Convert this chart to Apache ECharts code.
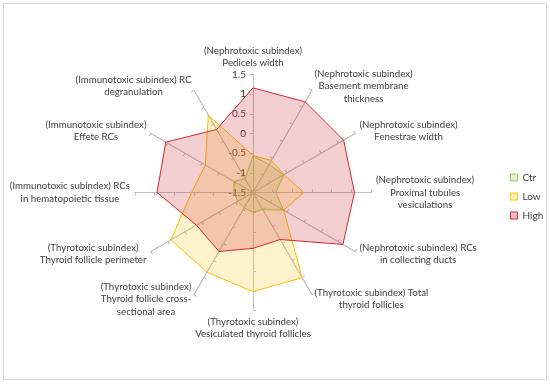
<!DOCTYPE html>
<html><head><meta charset="utf-8">
<script src="https://cdn.jsdelivr.net/npm/echarts@6/dist/echarts.min.js"></script>
<style>html,body{margin:0;padding:0;background:#fff}#c{width:550px;height:384px}</style>
</head><body><div id="c"></div>
<script>
// Categories in clockwise order starting from the top axis
const categories = [
  "(Nephrotoxic subindex)\nPedicels width",
  "(Nephrotoxic subindex)\nBasement membrane\nthickness",
  "(Nephrotoxic subindex)\nFenestrae width",
  "(Nephrotoxic subindex)\nProximal tubules\nvesiculations",
  "(Nephrotoxic subindex) RCs\nin collecting ducts",
  "(Thyrotoxic subindex) Total\nthyroid follicles",
  "(Thyrotoxic subindex)\nVesiculated thyroid follicles",
  "(Thyrotoxic subindex)\nThyroid follicle cross-\nsectional area",
  "(Thyrotoxic subindex)\nThyroid follicle perimeter",
  "(Immunotoxic subindex) RCs\nin hematopoietic tissue",
  "(Immunotoxic subindex)\nEffete RCs",
  "(Immunotoxic subindex) RC\ndegranulation"
];
const seriesNames = ["Ctr", "Low", "High"];
const ctrValues  = [-0.57, -0.68, -0.60, -0.92, -0.60, -1.00, -1.00, -1.05, -1.05, -1.02, -0.94, -1.10];
const lowValues  = [-0.56, -0.56, -0.59, -0.21, -0.60,  1.00,  1.02,  0.84,  0.91,  0.06, -0.10,  0.77];
const highValues = [ 1.16,  1.16,  1.16,  1.08,  1.14, -0.12, -0.08,  0.23,  0.16,  0.94,  1.06,  0.35];
const axisMin = -1.5, axisMax = 1.5, axisStep = 0.5;

const FONT = "Lato";
const FS = 9.7;
const TXT = "#404040";
const AX = "#bfbfbf";

// ECharts radar lays indicators out counter-clockwise; reorder so they run clockwise
const order = categories.map((_, i) => i === 0 ? 0 : categories.length - i);
const reorder = arr => order.map(i => arr[i]);
const indicator = reorder(categories).map(name => ({ name: name, min: axisMin, max: axisMax }));

const baseRadar = {
  center: [253, 192.5], radius: 118, startAngle: 90, splitNumber: 6, shape: "polygon",
  splitLine: { show: false }, splitArea: { show: false },
  axisLine: { lineStyle: { color: AX, width: 1 } },
  axisLabel: { show: false },
  indicator: indicator
};

const chart = echarts.init(document.getElementById("c"), null, { renderer: "canvas" });
chart.setOption({
  animation: false,
  backgroundColor: "#fff",
  graphic: [{ type: "rect", silent: true, shape: { x: 3.5, y: 3.5, width: 543, height: 376 },
    style: { fill: "none", stroke: "#d9d9d9", lineWidth: 1 } }],
  radar: [
    Object.assign({}, baseRadar, {
      nameGap: 5,
      axisTick: { show: true, length: 3, lineStyle: { color: AX } },
      axisName: {
        show: true, color: TXT, fontFamily: FONT, fontSize: FS, lineHeight: 12.5,
        formatter: function (name) { return name.split("\n").map(l => "{c|" + l + "}").join("\n"); },
        rich: { c: { align: "center", color: TXT, fontFamily: FONT, fontSize: FS, lineHeight: 12.5 } }
      }
    }),
    Object.assign({}, baseRadar, {
      axisName: { show: false },
      axisTick: { show: true, inside: true, length: 3, lineStyle: { color: AX } }
    })
  ],
  grid: { left: 253, top: 74.5, width: 1, height: 118, containLabel: false },
  xAxis: { type: "value", show: false },
  yAxis: {
    type: "value", min: axisMin, max: axisMax, interval: axisStep,
    axisLine: { show: false }, axisTick: { show: false }, splitLine: { show: false },
    axisLabel: { color: TXT, fontFamily: FONT, fontSize: 10, margin: 7 }
  },
  legend: {
    orient: "vertical", left: 505, top: 166, itemWidth: 7, itemHeight: 7, itemGap: 6, icon: "rect",
    textStyle: { color: TXT, fontFamily: FONT, fontSize: 10, lineHeight: 13 },
    data: [
      { name: seriesNames[0], itemStyle: { color: "#e3f1d3", borderColor: "#92d050", borderWidth: 1 } },
      { name: seriesNames[1], itemStyle: { color: "#fff0c0", borderColor: "#ffc000", borderWidth: 1 } },
      { name: seriesNames[2], itemStyle: { color: "#f0c0c4", borderColor: "#d9262e", borderWidth: 1 } }
    ]
  },
  series: [{
    type: "radar", radarIndex: 0, symbol: "none",
    data: [
      { name: seriesNames[0], value: reorder(ctrValues),
        itemStyle: { color: "#92d050" }, lineStyle: { color: "#92d050", width: 1 },
        areaStyle: { color: "rgba(146,208,80,0.3)" } },
      { name: seriesNames[1], value: reorder(lowValues),
        itemStyle: { color: "#ffc000" }, lineStyle: { color: "#ffc000", width: 1 },
        areaStyle: { color: "rgba(255,192,0,0.28)" } },
      { name: seriesNames[2], value: reorder(highValues),
        itemStyle: { color: "#d9262e" }, lineStyle: { color: "#d9262e", width: 1 },
        areaStyle: { color: "rgba(200,40,50,0.32)" } }
    ]
  }]
});
</script>
</body></html>
